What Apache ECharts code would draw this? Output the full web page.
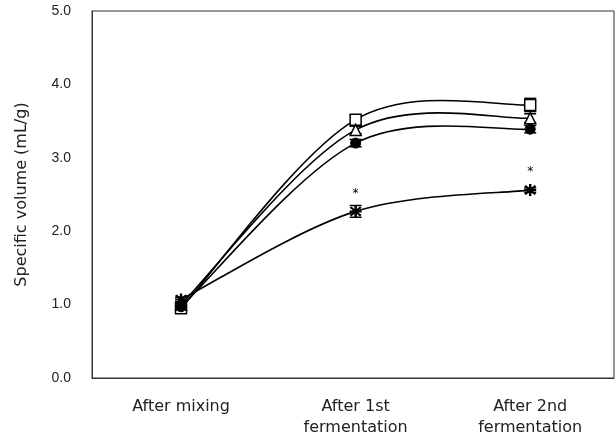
<!DOCTYPE html>
<html>
<head>
<meta charset="utf-8">
<script src="https://cdn.jsdelivr.net/npm/echarts@6/dist/echarts.min.js"></script>
<style>html,body{margin:0;padding:0;background:#fff}#c{width:616px;height:439px}</style>
</head>
<body>
<div id="c"></div>
<script>
var categories = ['After mixing', 'After 1st\nfermentation', 'After 2nd\nfermentation'];
var yTicks = ['0.0', '1.0', '2.0', '3.0', '4.0', '5.0'];
var squareVals = [0.95, 3.52, 3.72];
var triangleVals = [1.00, 3.38, 3.54];
var circleVals = [0.97, 3.20, 3.39];
var starVals = [1.07, 2.27, 2.56];
var squareErr = [0.03, 0.06, 0.09];
var triangleErr = [0.03, 0.05, 0.06];
var circleErr = [0.03, 0.05, 0.05];
var starErr = [0.03, 0.08, 0.03];
var starMarks = ['', '*', '*'];

var asterisk = 'path://M4,0 L6,0 L6,3.6 L8.6,1 L10,2.4 L7.2,5 L10,5 L10,7 L7.2,7 L10,9.6 L8.6,11 L6,8.4 L6,12 L4,12 L4,8.4 L1.4,11 L0,9.6 L2.8,7 L0,7 L0,5 L2.8,5 L0,2.4 L1.4,1 L4,3.6 Z';

function pts(vals) { return vals.map(function (v, i) { return [i, v]; }); }

// Smooth curve (Catmull-Rom style Bezier) through the data points, via the axis scales
function curveSeries(vals) {
  return {
    type: 'custom',
    silent: true,
    z: 2,
    data: pts(vals).slice(0, vals.length - 1),
    renderItem: function (params, api) {
      var i = params.dataIndex;
      var n = vals.length;
      var P = vals.map(function (v, k) { return api.coord([k, v]); });
      var p0 = P[Math.max(i - 1, 0)], p1 = P[i], p2 = P[i + 1], p3 = P[Math.min(i + 2, n - 1)];
      var t = 1 / 6;
      var c1 = [p1[0] + (p2[0] - p0[0]) * t, p1[1] + (p2[1] - p0[1]) * t];
      var c2 = [p2[0] - (p3[0] - p1[0]) * t, p2[1] - (p3[1] - p1[1]) * t];
      return {
        type: 'bezierCurve',
        shape: { x1: p1[0], y1: p1[1], cpx1: c1[0], cpy1: c1[1], cpx2: c2[0], cpy2: c2[1], x2: p2[0], y2: p2[1] },
        style: { stroke: '#000', lineWidth: 1.6, fill: null }
      };
    }
  };
}

function errSeries(vals, errs) {
  return {
    type: 'custom',
    silent: true,
    z: 1,
    data: vals.map(function (v, i) { return [i, v - errs[i], v + errs[i]]; }),
    renderItem: function (params, api) {
      var x = api.value(0);
      var lo = api.coord([x, api.value(1)]);
      var hi = api.coord([x, api.value(2)]);
      var w = 6;
      var st = { stroke: '#000', lineWidth: 1.5 };
      return {
        type: 'group',
        children: [
          { type: 'line', shape: { x1: lo[0], y1: lo[1], x2: hi[0], y2: hi[1] }, style: st },
          { type: 'line', shape: { x1: lo[0] - w, y1: lo[1], x2: lo[0] + w, y2: lo[1] }, style: st },
          { type: 'line', shape: { x1: hi[0] - w, y1: hi[1], x2: hi[0] + w, y2: hi[1] }, style: st }
        ]
      };
    }
  };
}

function markerSeries(vals, symbol, size, fill, bw) {
  return {
    type: 'scatter',
    z: 3,
    data: pts(vals),
    symbol: symbol,
    symbolSize: size,
    itemStyle: { color: fill, borderColor: '#000', borderWidth: bw, opacity: 1 }
  };
}

var starSeries = markerSeries(starVals, asterisk, 12, '#000', 0);
starSeries.data = starVals.map(function (v, i) {
  return {
    value: [i, v],
    label: {
      show: starMarks[i] !== '',
      formatter: starMarks[i],
      position: 'top',
      distance: 6,
      color: '#000',
      fontSize: 12,
      fontFamily: 'DejaVu Sans'
    }
  };
});

var chart = echarts.init(document.getElementById('c'), null, { renderer: 'canvas' });
chart.setOption({
  animation: false,
  backgroundColor: '#fff',
  grid: { left: 92, right: 2, top: 11, bottom: 61, show: true, borderColor: '#333', borderWidth: 1, backgroundColor: 'transparent' },
  xAxis: {
    type: 'value',
    min: -0.51,
    max: 2.48,
    splitLine: { show: false },
    axisLine: { show: true, onZero: false, lineStyle: { color: '#333' } },
    axisTick: { show: false },
    axisLabel: {
      customValues: [0, 1, 2],
      formatter: function (v) { return categories[Math.round(v)]; },
      color: '#222',
      fontSize: 16,
      fontFamily: 'DejaVu Sans',
      lineHeight: 21,
      margin: 18
    }
  },
  yAxis: {
    type: 'value',
    min: 0,
    max: 5,
    interval: 1,
    name: 'Specific volume (mL/g)',
    nameLocation: 'middle',
    nameGap: 62,
    nameTextStyle: { color: '#222', fontSize: 16, fontFamily: 'DejaVu Sans' },
    splitLine: { show: false },
    axisLine: { show: true, onZero: false, lineStyle: { color: '#333' } },
    axisTick: { show: false },
    axisLabel: {
      formatter: function (v) { return yTicks[Math.round(v)]; },
      color: '#222',
      fontSize: 14,
      fontFamily: 'Liberation Sans',
      margin: 21
    }
  },
  series: [
    errSeries(squareVals, squareErr),
    errSeries(triangleVals, triangleErr),
    errSeries(circleVals, circleErr),
    errSeries(starVals, starErr),
    curveSeries(squareVals),
    curveSeries(triangleVals),
    curveSeries(circleVals),
    curveSeries(starVals),
    markerSeries(squareVals, 'rect', 11, '#fff', 1.5),
    markerSeries(triangleVals, 'triangle', 11, '#fff', 1.5),
    markerSeries(circleVals, 'circle', 10, '#000', 1),
    starSeries
  ]
});
</script>
</body>
</html>
